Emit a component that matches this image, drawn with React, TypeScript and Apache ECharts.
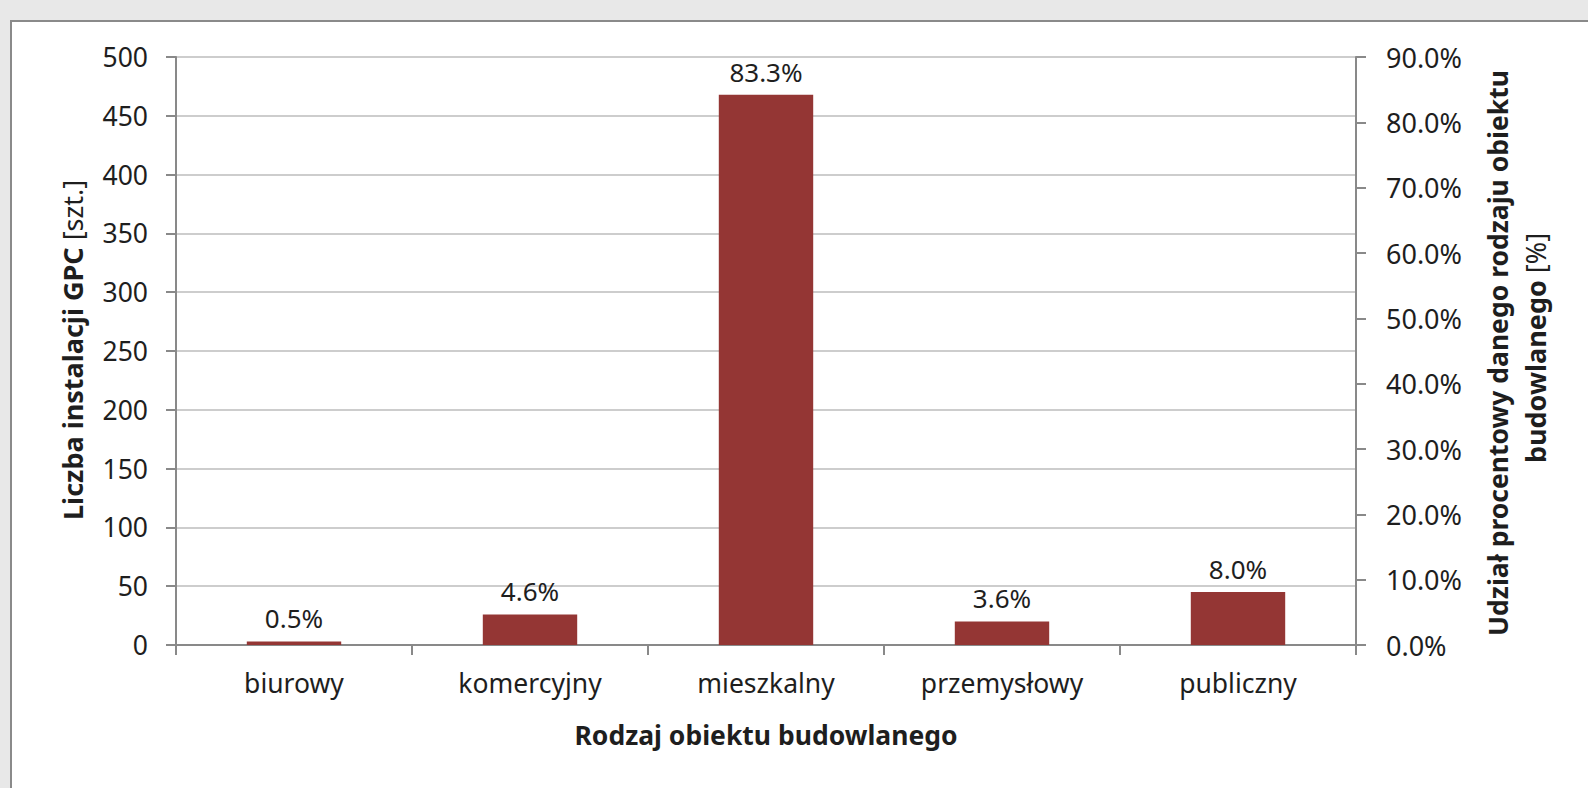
import React, { useEffect, useRef } from "react";
import * as echarts from "echarts";

const categories = ["biurowy", "komercyjny", "mieszkalny", "przemysłowy", "publiczny"];
const installCounts = [3, 26, 468, 20, 45];
const sharePercent = [0.5, 4.6, 83.3, 3.6, 8.0];
const leftTicks = { min: 0, max: 500, interval: 50 };
const rightTicks = { min: 0, max: 90, interval: 10 };

const xTitle = "Rodzaj obiektu budowlanego";
const yTitleBold = "Liczba instalacji GPC";
const yTitleNormal = "[szt.]";
const y2TitleLine1 = "Udział procentowy danego rodzaju obiektu";
const y2TitleLine2Bold = "budowlanego";
const y2TitleLine2Normal = "[%]";

const FONT = "'Noto Sans', 'DejaVu Sans', sans-serif";

export default function App() {
  const ref = useRef<HTMLDivElement>(null);
  useEffect(() => {
    if (!ref.current) return;
    const chart = echarts.init(ref.current, null, { renderer: "svg" });
    const axisColor = "#898989";
    const textColor = "#1e1e1e";
    const titleSize = 26.5;
    chart.setOption({
      animation: false,
      backgroundColor: "#e8e8e8",
      textStyle: { fontFamily: FONT },
      grid: { left: 176, right: 232, top: 57, bottom: 143, containLabel: false },
      graphic: [
        {
          type: "rect",
          z: -10,
          shape: { x: 11, y: 21, width: 1620, height: 820 },
          style: { fill: "#ffffff", stroke: "#8a8a8a", lineWidth: 2 },
        },
        {
          type: "text",
          x: 766,
          y: 735,
          style: {
            text: xTitle,
            font: `bold ${titleSize}px ${FONT}`,
            fill: textColor,
            textAlign: "center",
            textVerticalAlign: "middle",
          },
        },
        {
          type: "text",
          x: 72,
          y: 350,
          rotation: Math.PI / 2,
          style: {
            text: `{b|${yTitleBold}} {n|${yTitleNormal}}`,
            rich: {
              b: { fontFamily: FONT, fontWeight: "bold", fontSize: 27, fill: textColor, color: textColor },
              n: { fontFamily: FONT, fontWeight: "normal", fontSize: 27, fill: textColor, color: textColor },
            },
            font: `bold 27px ${FONT}`,
            fill: textColor,
            textAlign: "center",
            textVerticalAlign: "middle",
          },
        },
        {
          type: "text",
          x: 1498,
          y: 353,
          rotation: Math.PI / 2,
          style: {
            text: y2TitleLine1,
            font: `bold ${titleSize}px ${FONT}`,
            fill: textColor,
            textAlign: "center",
            textVerticalAlign: "middle",
          },
        },
        {
          type: "text",
          x: 1535,
          y: 348,
          rotation: Math.PI / 2,
          style: {
            text: `{b|${y2TitleLine2Bold}} {n|${y2TitleLine2Normal}}`,
            rich: {
              b: { fontFamily: FONT, fontWeight: "bold", fontSize: 27, fill: textColor, color: textColor },
              n: { fontFamily: FONT, fontWeight: "normal", fontSize: 27, fill: textColor, color: textColor },
            },
            font: `bold 27px ${FONT}`,
            fill: textColor,
            textAlign: "center",
            textVerticalAlign: "middle",
          },
        },
      ],
      xAxis: {
        type: "category",
        data: categories,
        axisLine: { show: true, lineStyle: { color: axisColor, width: 2 } },
        axisTick: { show: true, length: 10, alignWithLabel: false, lineStyle: { color: axisColor, width: 2 } },
        axisLabel: { color: textColor, fontSize: 26.5, margin: 24, fontFamily: FONT },
        splitLine: { show: false },
      },
      yAxis: [
        {
          type: "value",
          position: "left",
          min: leftTicks.min,
          max: leftTicks.max,
          interval: leftTicks.interval,
          axisLine: { show: true, lineStyle: { color: axisColor, width: 2 } },
          axisTick: { show: true, length: 10, lineStyle: { color: axisColor, width: 2 } },
          axisLabel: { color: textColor, fontSize: 26.5, margin: 28, fontFamily: FONT },
          splitLine: { show: true, lineStyle: { color: "#bcbcbc", width: 1.5 } },
        },
        {
          type: "value",
          position: "right",
          min: rightTicks.min,
          max: rightTicks.max,
          interval: rightTicks.interval,
          axisLine: { show: true, lineStyle: { color: axisColor, width: 2 } },
          axisTick: { show: true, length: 10, lineStyle: { color: axisColor, width: 2 } },
          axisLabel: {
            color: textColor,
            fontSize: 27,
            margin: 30,
            fontFamily: FONT,
            formatter: (v: number) => v.toFixed(1) + "%",
          },
          splitLine: { show: false },
        },
      ],
      series: [
        {
          type: "bar",
          yAxisIndex: 0,
          data: installCounts,
          barWidth: "40%",
          itemStyle: { color: "#943634" },
          label: {
            show: true,
            position: "top",
            distance: 10,
            color: textColor,
            fontSize: 26,
            fontFamily: FONT,
            formatter: (p: any) => sharePercent[p.dataIndex].toFixed(1) + "%",
          },
        },
      ],
    });
    return () => chart.dispose();
  }, []);
  return (
    <div
      ref={ref}
      style={{ position: "fixed", left: 0, top: 0, width: 1588, height: 788 }}
    />
  );
}
